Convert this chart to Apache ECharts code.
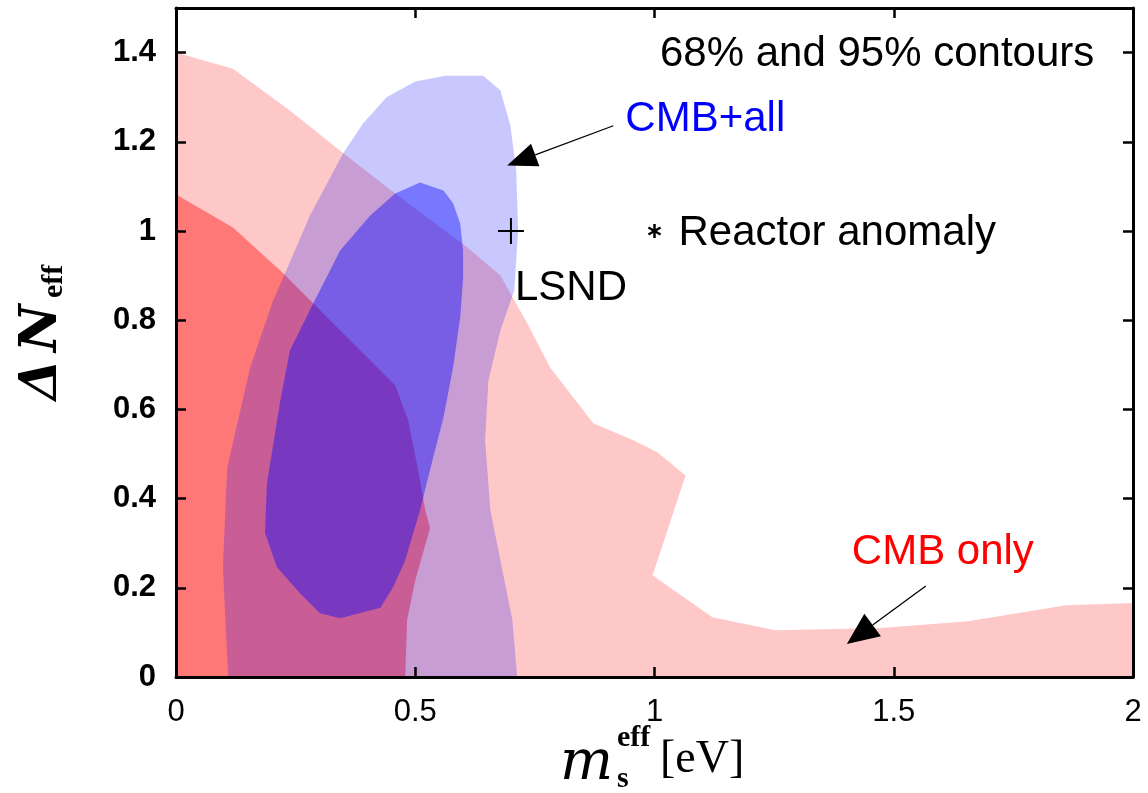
<!DOCTYPE html>
<html>
<head>
<meta charset="utf-8">
<script src="https://cdn.jsdelivr.net/npm/echarts/dist/echarts.min.js"></script>
<style>
html,body{margin:0;padding:0;background:#ffffff;}
#chart{width:1148px;height:793px;}
</style>
</head>
<body>
<div id="chart"></div>
<script>
// ---------- data ----------
const xTicks = [0, 0.5, 1, 1.5, 2];
const yTicks = [0, 0.2, 0.4, 0.6, 0.8, 1, 1.2, 1.4];

// CMB only, 95% contour
const cmbOnly95 = [
  [0, 1.40], [0.119, 1.364], [0.238, 1.270], [0.343, 1.180], [0.469, 1.075],
  [0.609, 0.963], [0.678, 0.900], [0.699, 0.860], [0.734, 0.793], [0.782, 0.694],
  [0.872, 0.569], [0.956, 0.531], [1.006, 0.504], [1.065, 0.452], [0.996, 0.228],
  [1.121, 0.134], [1.253, 0.105], [1.473, 0.110], [1.655, 0.125], [1.860, 0.161],
  [2.0, 0.166], [2.0, 0], [0, 0]
];
// CMB only, 68% contour
const cmbOnly68 = [
  [0, 1.082], [0.119, 1.008], [0.224, 0.905], [0.322, 0.800], [0.406, 0.710],
  [0.458, 0.654], [0.485, 0.576], [0.506, 0.464], [0.521, 0.374], [0.531, 0.334],
  [0.500, 0.217], [0.483, 0.128], [0.479, 0], [0, 0]
];
// CMB+all, 95% contour
const cmbAll95 = [
  [0.109, 0], [0.098, 0.246], [0.107, 0.470], [0.155, 0.694], [0.203, 0.844],
  [0.224, 0.896], [0.280, 1.035], [0.349, 1.174], [0.390, 1.240], [0.440, 1.300],
  [0.500, 1.335], [0.563, 1.348], [0.642, 1.348], [0.678, 1.315], [0.699, 1.236],
  [0.711, 1.135], [0.715, 1.001], [0.707, 0.867], [0.678, 0.777], [0.653, 0.665],
  [0.646, 0.531], [0.657, 0.374], [0.682, 0.240], [0.703, 0.128], [0.713, 0]
];
// CMB+all, 68% contour
const cmbAll68 = [
  [0.510, 1.109], [0.559, 1.091], [0.579, 1.062], [0.594, 1.017], [0.600, 0.956],
  [0.600, 0.896], [0.594, 0.806], [0.579, 0.694], [0.559, 0.582], [0.536, 0.486],
  [0.510, 0.374], [0.479, 0.262], [0.454, 0.202], [0.427, 0.155], [0.343, 0.132],
  [0.301, 0.143], [0.259, 0.188], [0.211, 0.246], [0.186, 0.323], [0.190, 0.434],
  [0.218, 0.620], [0.238, 0.732], [0.287, 0.838], [0.343, 0.956], [0.406, 1.035],
  [0.458, 1.084]
];

const lsndPoint = [0.7, 1.0];
const reactorPoint = [1.0, 1.0];
const arrowCmbAll = [[0.914, 1.236], [0.692, 1.147]];   // from, to (tip)
const arrowCmbOnly = [[1.567, 0.204], [1.402, 0.074]];

const labelTexts = {
  contours: '68% and 95% contours',
  cmbAll: 'CMB+all',
  cmbOnly: 'CMB only',
  lsnd: 'LSND',
  reactor: 'Reactor anomaly'
};

// ---------- helpers ----------
const SANS = '"Liberation Sans", Arial, Helvetica, sans-serif';

function polygonSeries(name, pts, fill) {
  return {
    type: 'custom', name: name, silent: true, clip: true,
    data: [[0, 0]],
    renderItem: function (params, api) {
      return {
        type: 'polygon',
        shape: { points: pts.map(function (p) { return api.coord(p); }) },
        style: { fill: fill }
      };
    }
  };
}

// labelDx/labelDy: pixel offset of the label from the arrow tail (layout only)
function arrowSeries(name, pair, text, textColor, headLen, headHalf, labelDx, labelDy) {
  return {
    type: 'custom', name: name, silent: true, clip: false, z: 5,
    data: [[0, 0]],
    renderItem: function (params, api) {
      const a = api.coord(pair[0]);
      const b = api.coord(pair[1]);
      const dx = b[0] - a[0], dy = b[1] - a[1];
      const len = Math.sqrt(dx * dx + dy * dy);
      const ux = dx / len, uy = dy / len;
      const bx = b[0] - ux * headLen, by = b[1] - uy * headLen;
      const nx = -uy, ny = ux;
      return {
        type: 'group',
        children: [
          { type: 'line', shape: { x1: a[0], y1: a[1], x2: bx, y2: by },
            style: { stroke: '#000', lineWidth: 1.3 } },
          { type: 'polygon',
            shape: { points: [[b[0], b[1]], [bx + nx * headHalf, by + ny * headHalf], [bx - nx * headHalf, by - ny * headHalf]] },
            style: { fill: '#000' } },
          { type: 'text', x: a[0] + labelDx, y: a[1] + labelDy,
            style: { text: text, fill: textColor, fontSize: 42, fontFamily: SANS,
                     align: 'left', verticalAlign: 'middle' } }
        ]
      };
    }
  };
}

const chart = echarts.init(document.getElementById('chart'), null, { renderer: 'canvas' });

const axisLineStyle = { color: '#000', width: 3 };
const tickStyle = { color: '#000', width: 2.5 };

const option = {
  animation: false,
  backgroundColor: '#ffffff',
  grid: { left: 176, right: 15, top: 8, bottom: 116, containLabel: false },
  xAxis: [
    { type: 'value', min: xTicks[0], max: xTicks[xTicks.length - 1], interval: 0.5, position: 'bottom', z: 10,
      axisLine: { show: true, onZero: false, lineStyle: axisLineStyle },
      axisTick: { show: true, inside: true, length: 10, lineStyle: tickStyle },
      axisLabel: { color: '#000', fontSize: 31, fontFamily: SANS, margin: 20,
        formatter: function (v) { return String(v); } },
      splitLine: { show: false } },
    { type: 'value', min: xTicks[0], max: xTicks[xTicks.length - 1], interval: 0.5, position: 'top', z: 10,
      axisLine: { show: true, onZero: false, lineStyle: axisLineStyle },
      axisTick: { show: true, inside: true, length: 10, lineStyle: tickStyle },
      axisLabel: { show: false }, splitLine: { show: false } }
  ],
  yAxis: [
    { type: 'value', min: 0, max: 1.5, interval: 0.2, position: 'left', z: 10,
      axisLine: { show: true, onZero: false, lineStyle: axisLineStyle },
      axisTick: { show: true, inside: true, length: 10, lineStyle: tickStyle },
      axisLabel: { color: '#000', fontSize: 31, fontWeight: 'bold', fontFamily: SANS, margin: 20,
        showMaxLabel: false,
        formatter: function (v) { return yTicks.some(function (t) { return Math.abs(t - v) < 1e-6; }) ? String(Math.round(v * 10) / 10) : ''; } },
      splitLine: { show: false } },
    { type: 'value', min: 0, max: 1.5, interval: 0.2, position: 'right', z: 10,
      axisLine: { show: true, onZero: false, lineStyle: axisLineStyle },
      axisTick: { show: true, inside: true, length: 10, lineStyle: tickStyle },
      axisLabel: { show: false }, splitLine: { show: false } }
  ],
  series: [
    polygonSeries('CMB only 95%', cmbOnly95, 'rgba(255,0,0,0.216)'),
    polygonSeries('CMB only 68%', cmbOnly68, 'rgba(255,0,0,0.4)'),
    polygonSeries('CMB+all 95%', cmbAll95, 'rgba(0,0,255,0.216)'),
    polygonSeries('CMB+all 68%', cmbAll68, 'rgba(0,0,255,0.4)'),
    arrowSeries('CMB+all arrow', arrowCmbAll, labelTexts.cmbAll, '#0000ff', 30, 12, 12, -6),
    arrowSeries('CMB only arrow', arrowCmbOnly, labelTexts.cmbOnly, '#ff0000', 32, 14, -74, -34),
    { type: 'custom', name: 'LSND', silent: true, clip: false, z: 6,
      data: [lsndPoint],
      renderItem: function (params, api) {
        const c = api.coord([api.value(0), api.value(1)]);
        const h = 13;
        return { type: 'group', children: [
          { type: 'line', shape: { x1: c[0] - h, y1: c[1], x2: c[0] + h, y2: c[1] }, style: { stroke: '#000', lineWidth: 2 } },
          { type: 'line', shape: { x1: c[0], y1: c[1] - h, x2: c[0], y2: c[1] + h }, style: { stroke: '#000', lineWidth: 2 } },
          { type: 'text', x: c[0] + 4, y: c[1] + 57,
            style: { text: labelTexts.lsnd, fill: '#000', fontSize: 42, fontFamily: SANS, align: 'left', verticalAlign: 'middle' } }
        ] };
      } },
    { type: 'custom', name: 'Reactor anomaly', silent: true, clip: false, z: 6,
      data: [reactorPoint],
      renderItem: function (params, api) {
        const c = api.coord([api.value(0), api.value(1)]);
        const r = 7;
        const arms = [];
        for (let k = 0; k < 3; k++) {
          const ang = Math.PI / 2 + k * Math.PI / 3;
          arms.push({ type: 'line',
            shape: { x1: c[0] - r * Math.cos(ang), y1: c[1] - r * Math.sin(ang), x2: c[0] + r * Math.cos(ang), y2: c[1] + r * Math.sin(ang) },
            style: { stroke: '#000', lineWidth: 2.5 } });
        }
        arms.push({ type: 'text', x: c[0] + 24, y: c[1] + 2,
          style: { text: labelTexts.reactor, fill: '#000', fontSize: 42, fontFamily: SANS, align: 'left', verticalAlign: 'middle' } });
        return { type: 'group', children: arms };
      } }
  ],
  graphic: [
    { type: 'text', left: 660, top: 33, z: 20,
      style: { text: labelTexts.contours, fill: '#000', fontSize: 42, fontFamily: SANS } },
    // y-axis title  ΔN_eff
    { type: 'group', x: 42, y: 322, rotation: Math.PI / 2, z: 20, children: [
      { type: 'text', x: -78, y: 0, style: { text: 'Δ', fill: '#000', fontSize: 52, fontStyle: 'italic', fontWeight: 'bold',
        fontFamily: '"DejaVu Serif", serif', align: 'left', verticalAlign: 'middle' } },
      { type: 'text', x: -30, y: 0, style: { text: 'N', fill: '#000', fontSize: 52, fontStyle: 'italic', fontWeight: 'bold',
        fontFamily: '"DejaVu Serif", serif', align: 'left', verticalAlign: 'middle' } },
      { type: 'text', x: 24, y: 12, style: { text: 'eff', fill: '#000', fontSize: 30, fontWeight: 'bold',
        fontFamily: '"Liberation Serif", serif', align: 'left', verticalAlign: 'middle' } }
    ] },
    // x-axis title  m_s^eff [eV]
    { type: 'text', x: 560, y: 764, z: 20, style: { text: 'm', fill: '#000', fontSize: 56, fontStyle: 'italic',
      fontFamily: '"DejaVu Serif", serif', align: 'left', verticalAlign: 'middle' } },
    { type: 'text', x: 617, y: 738, z: 20, style: { text: 'eff', fill: '#000', fontSize: 30, fontWeight: 'bold',
      fontFamily: '"Liberation Serif", serif', align: 'left', verticalAlign: 'middle' } },
    { type: 'text', x: 617, y: 779, z: 20, style: { text: 's', fill: '#000', fontSize: 30, fontWeight: 'bold',
      fontFamily: '"Liberation Serif", serif', align: 'left', verticalAlign: 'middle' } },
    { type: 'text', x: 660, y: 760, z: 20, style: { text: '[eV]', fill: '#000', fontSize: 46,
      fontFamily: '"Liberation Serif", serif', align: 'left', verticalAlign: 'middle' } }
  ]
};

chart.setOption(option);
</script>
</body>
</html>
